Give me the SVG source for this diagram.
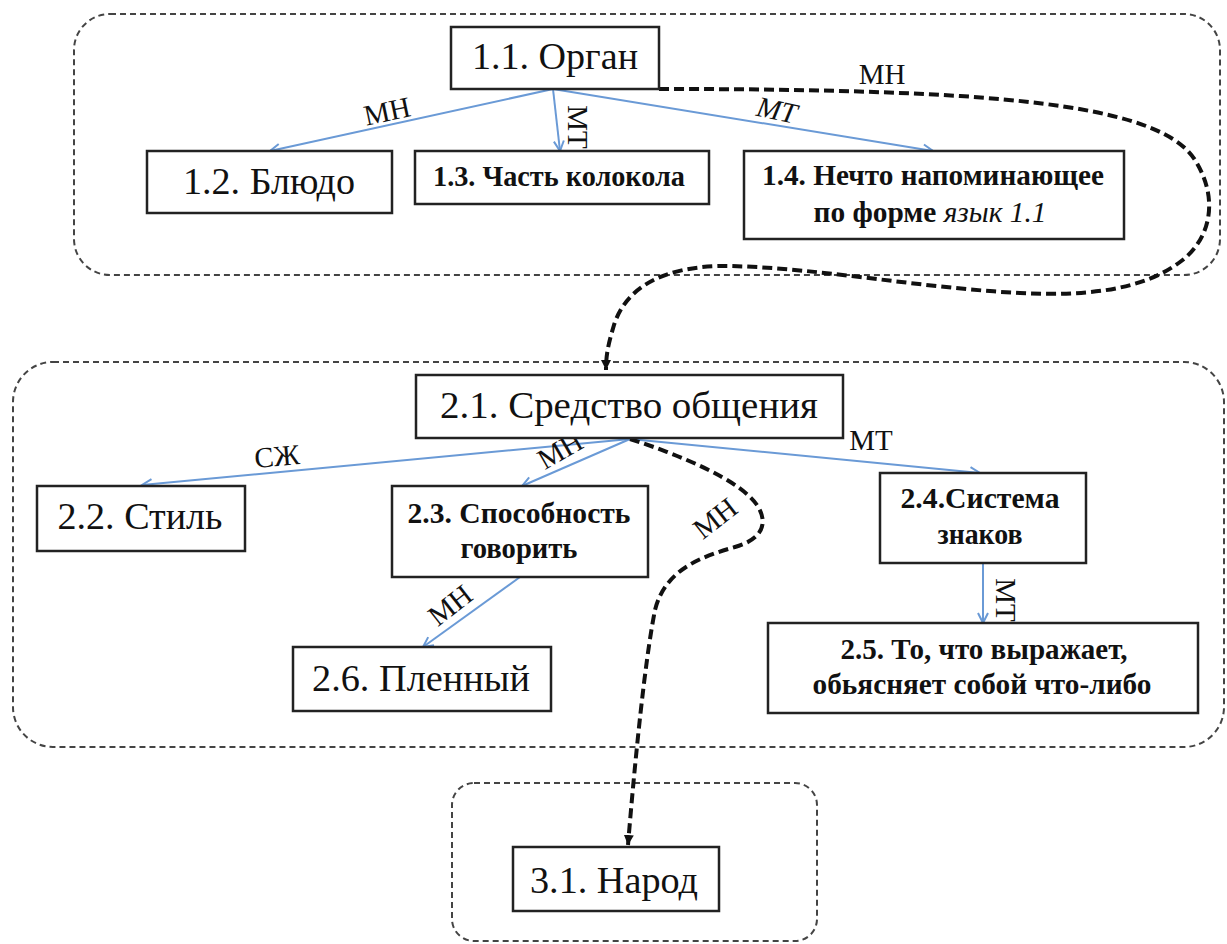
<svg xmlns="http://www.w3.org/2000/svg" width="1227" height="944" viewBox="0 0 1227 944" font-family="Liberation Serif, serif">
<style>
.box{fill:#fff;stroke:#222;stroke-width:2.5}
.cont{fill:none;stroke:#444;stroke-width:2;stroke-dasharray:6 4}
.blue{fill:none;stroke:#6a9ad6;stroke-width:2;marker-end:url(#ob)}
.dash{fill:none;stroke:#111;stroke-width:4;stroke-dasharray:10 5;marker-end:url(#fb)}
.big{font-family:"Liberation Serif",serif;font-size:38px;text-anchor:middle;fill:#111}
.small{font-family:"Liberation Serif",serif;font-size:29px;font-weight:bold;text-anchor:middle;fill:#111}
.lbl{font-family:"Liberation Serif",serif;font-size:29px;text-anchor:middle;dominant-baseline:central;fill:#111}
</style>
<defs>
<marker id="ob" markerUnits="userSpaceOnUse" markerWidth="14" markerHeight="14" refX="11" refY="6" orient="auto" viewBox="0 0 14 12">
<path d="M1,1 L11,6 L1,11" fill="none" stroke="#6a9ad6" stroke-width="2"/>
</marker>
<marker id="fb" markerUnits="userSpaceOnUse" markerWidth="12" markerHeight="12" refX="10" refY="5" orient="auto" viewBox="0 0 12 10">
<path d="M0,0 L10,5 L0,10 Z" fill="#111"/>
</marker>
</defs>

<g id="containers">
<rect class="cont" x="74" y="14" width="1146" height="261" rx="36" ry="36"/>
<rect class="cont" x="13" y="362" width="1211" height="385" rx="40" ry="40" stroke-dasharray="5 3"/>
<rect class="cont" x="452" y="783" width="365" height="158" rx="22" ry="22" stroke-dasharray="5 3"/>
</g>

<g id="connectors">
<line class="blue" x1="553" y1="89" x2="270" y2="151"/>
<line class="blue" x1="553" y1="89" x2="560" y2="151"/>
<line class="blue" x1="553" y1="89" x2="933" y2="151"/>
<line class="blue" x1="630" y1="439" x2="142" y2="485"/>
<line class="blue" x1="630" y1="439" x2="522" y2="486"/>
<line class="blue" x1="630" y1="439" x2="980" y2="473"/>
<line class="blue" x1="983" y1="563" x2="983" y2="623"/>
<line class="blue" x1="520" y1="577" x2="423" y2="647"/>
<path class="dash" d="M659,89 C760,89 860,90 960,96 C1080,104 1170,120 1195,160 C1220,200 1210,240 1180,262 C1140,292 1080,296 1020,293 C920,288 820,268 730,266 C660,265 625,290 614,325 C608,345 606,355 606,370"/>
<path class="dash" d="M630,439 C680,455 740,480 757,505 C770,525 760,540 735,547 C700,557 665,570 655,610 C645,660 635,760 628,845"/>
<text class="lbl" transform="translate(387,111) rotate(-12)">МН</text>
<text class="lbl" transform="translate(578,127) rotate(90)">МТ</text>
<text class="lbl" font-style="italic" transform="translate(777,110) rotate(12)">МТ</text>
<text class="lbl" x="882" y="74">МН</text>
<text class="lbl" transform="translate(277,456) rotate(-5)">СЖ</text>
<text class="lbl" transform="translate(560,450) rotate(-30)">МН</text>
<text class="lbl" transform="translate(715,518) rotate(-38)">МН</text>
<text class="lbl" x="871" y="440">МТ</text>
<text class="lbl" transform="translate(450,605) rotate(-38)">МН</text>
<text class="lbl" transform="translate(1006,600) rotate(90)">МТ</text>
</g>

<g id="n11"><rect class="box" x="451" y="27" width="208" height="62"/><text class="big" x="555" y="69" textLength="166" lengthAdjust="spacingAndGlyphs">1.1. Орган</text></g>
<g id="n12"><rect class="box" x="147" y="151" width="245" height="62"/><text class="big" x="269" y="194" textLength="172" lengthAdjust="spacingAndGlyphs">1.2. Блюдо</text></g>
<g id="n13"><rect class="box" x="415" y="151" width="294" height="53"/><text class="small" x="559" y="186" textLength="252" lengthAdjust="spacingAndGlyphs">1.3. Часть колокола</text></g>
<g id="n14"><rect class="box" x="744" y="151" width="380" height="88"/>
<text class="small" x="933" y="185" textLength="342" lengthAdjust="spacingAndGlyphs">1.4. Нечто напоминающее</text>
<text class="small" x="930" y="222" textLength="233" lengthAdjust="spacingAndGlyphs">по форме <tspan font-style="italic" font-weight="normal">язык 1.1</tspan></text></g>

<g id="n21"><rect class="box" x="416" y="375" width="427" height="63"/><text class="big" x="629" y="418" textLength="378" lengthAdjust="spacingAndGlyphs">2.1. Средство общения</text></g>
<g id="n22"><rect class="box" x="37" y="486" width="208" height="65"/><text class="big" x="140" y="529" textLength="165" lengthAdjust="spacingAndGlyphs">2.2. Стиль</text></g>
<g id="n23"><rect class="box" x="392" y="486" width="256" height="91"/>
<text class="small" x="519" y="523" textLength="223" lengthAdjust="spacingAndGlyphs">2.3. Способность</text>
<text class="small" x="519" y="558" textLength="117" lengthAdjust="spacingAndGlyphs">говорить</text></g>
<g id="n24"><rect class="box" x="880" y="473" width="206" height="90"/>
<text class="small" x="980" y="508" textLength="159" lengthAdjust="spacingAndGlyphs">2.4.Система</text>
<text class="small" x="980" y="544" textLength="85" lengthAdjust="spacingAndGlyphs">знаков</text></g>
<g id="n25"><rect class="box" x="768" y="623" width="430" height="90"/>
<text class="small" x="984" y="659" textLength="287" lengthAdjust="spacingAndGlyphs">2.5. То, что выражает,</text>
<text class="small" x="982" y="694" textLength="339" lengthAdjust="spacingAndGlyphs">обьясняет собой что-либо</text></g>
<g id="n26"><rect class="box" x="293" y="647" width="258" height="64"/><text class="big" x="421" y="691" textLength="218" lengthAdjust="spacingAndGlyphs">2.6. Пленный</text></g>

<g id="n31"><rect class="box" x="513" y="847" width="206" height="64"/><text class="big" x="614" y="893" textLength="168" lengthAdjust="spacingAndGlyphs">3.1. Народ</text></g>
</svg>
